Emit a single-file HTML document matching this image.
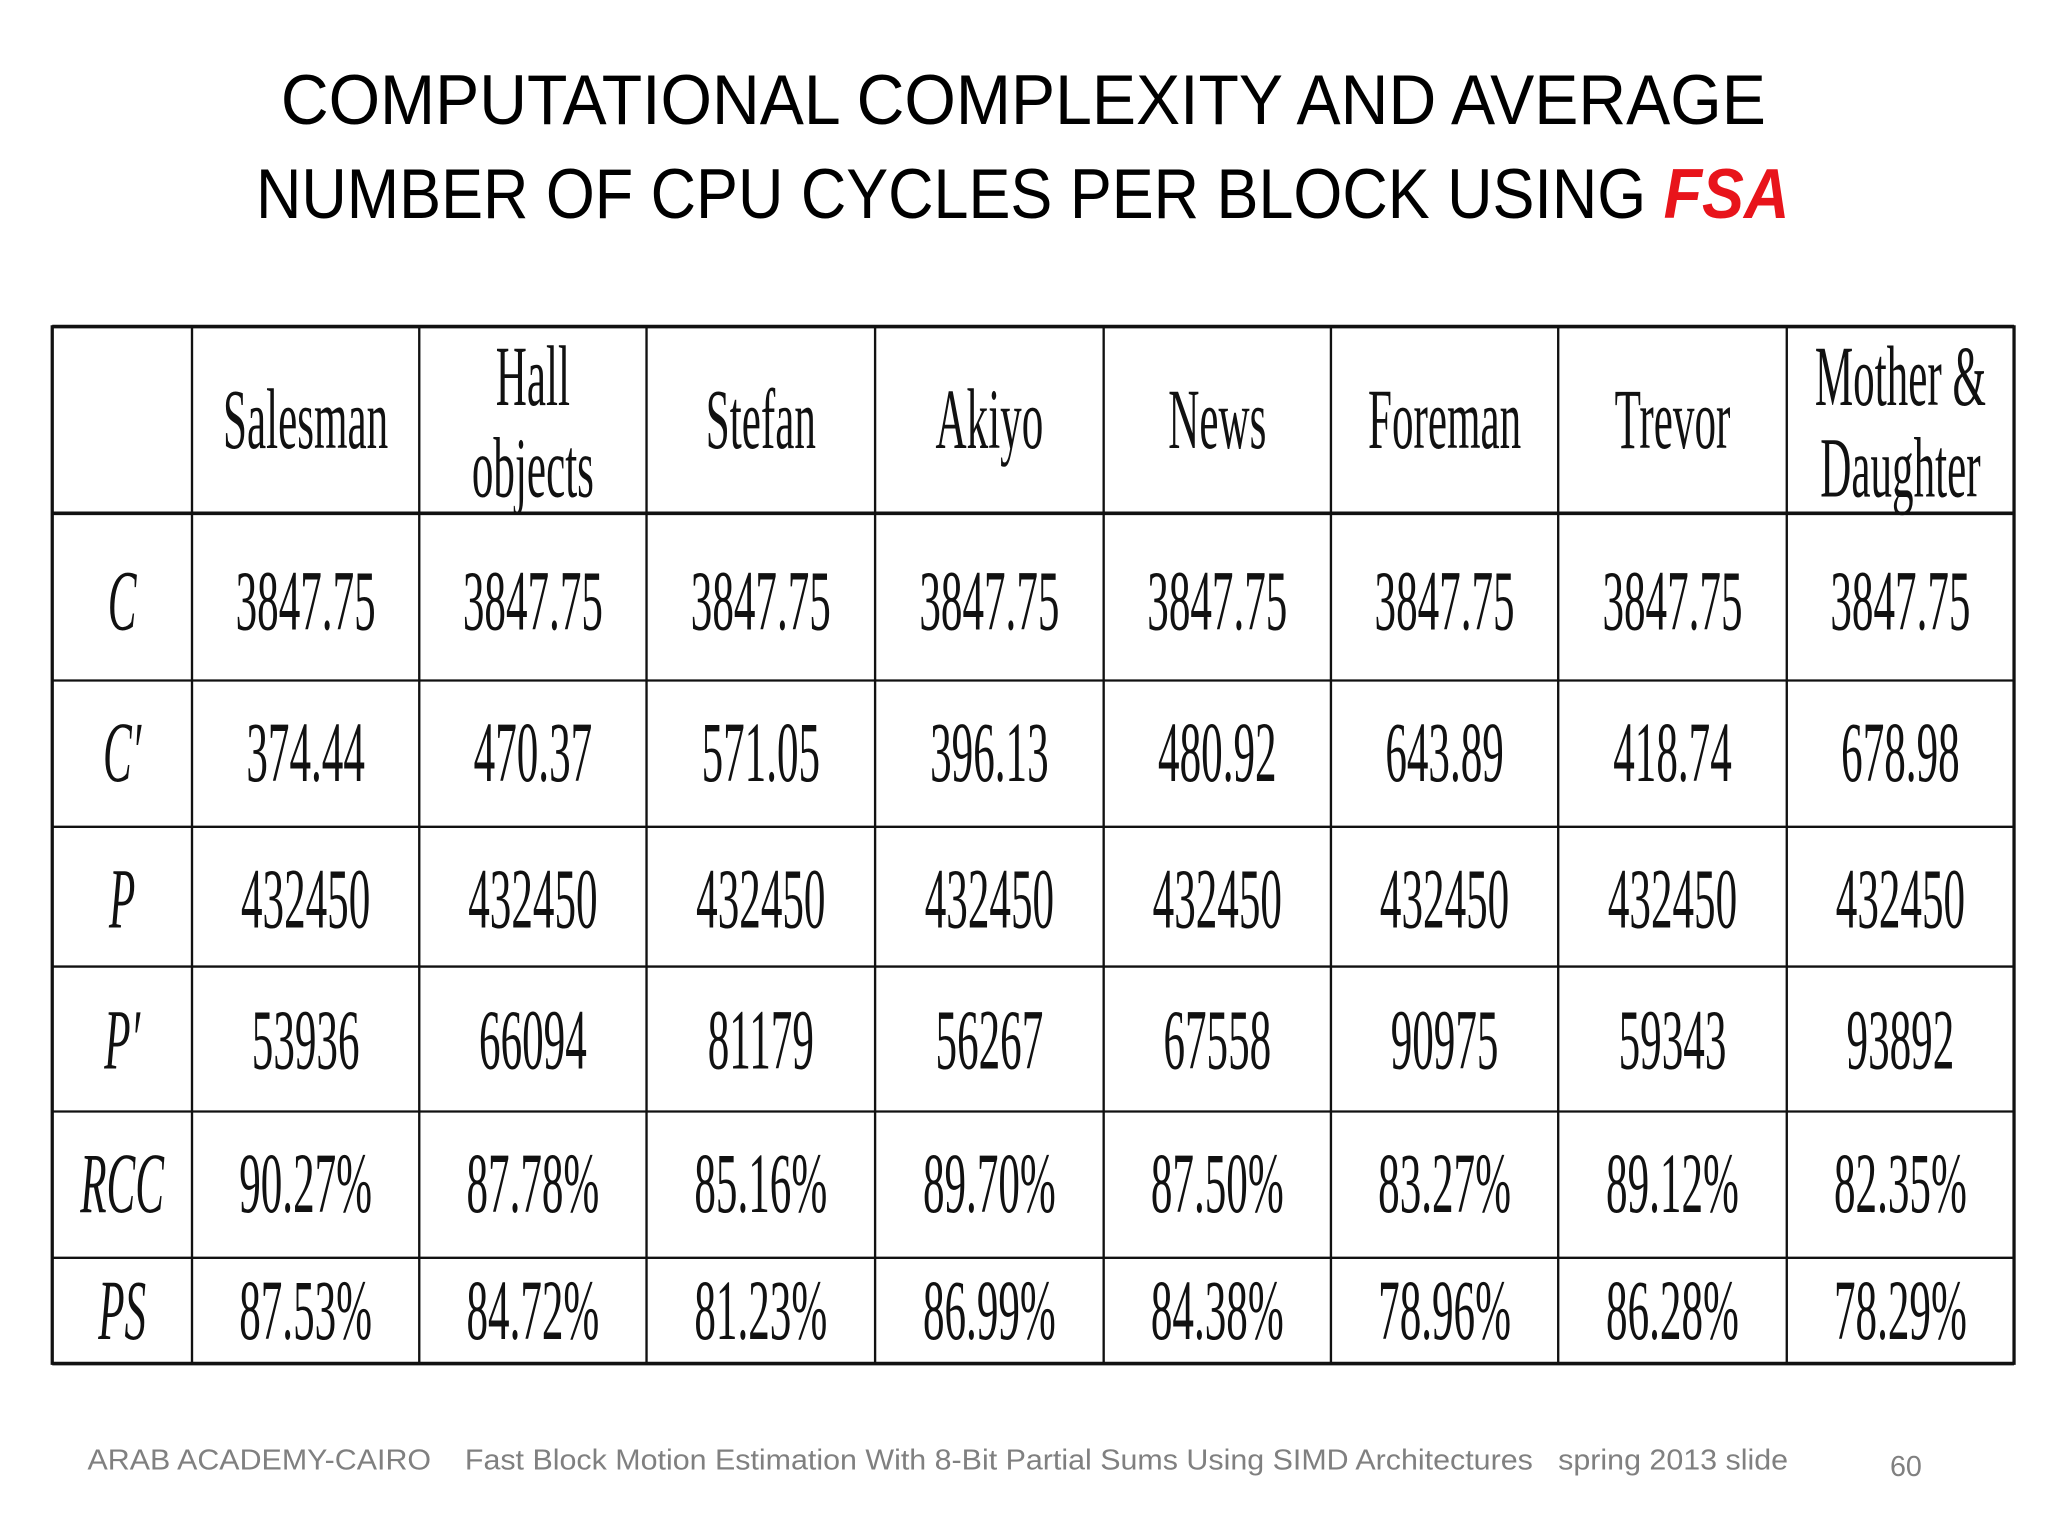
<!DOCTYPE html>
<html><head><meta charset="utf-8"><style>
html,body{margin:0;padding:0;background:#fff;}
svg{display:block;}
.t{font-family:"Liberation Serif",serif;font-size:66px;fill:#111;}
.i{font-style:italic;}
</style></head><body>
<svg width="2048" height="1536" viewBox="0 0 1568 1176" xmlns="http://www.w3.org/2000/svg">
<rect width="1568" height="1176" fill="#fff"/>
<g font-family="Liberation Sans, sans-serif" font-size="54" fill="#000" text-anchor="start">
<text x="215" y="95" textLength="1137" lengthAdjust="spacingAndGlyphs">COMPUTATIONAL COMPLEXITY AND AVERAGE</text>
<text x="196" y="167" textLength="1174" lengthAdjust="spacingAndGlyphs">NUMBER OF CPU CYCLES PER BLOCK USING <tspan fill="#e8141b" font-weight="bold" font-style="italic">FSA</tspan></text>
</g>
<g id="grid" stroke="#111" fill="none"></g>
<g id="cells"></g>
<g font-family="Liberation Sans, sans-serif" fill="#808080">
<text x="67" y="1125" font-size="22" textLength="1302" lengthAdjust="spacingAndGlyphs" xml:space="preserve" style="white-space:pre">ARAB ACADEMY-CAIRO    Fast Block Motion Estimation With 8-Bit Partial Sums Using SIMD Architectures   spring 2013 slide</text>
<text x="1447" y="1130" font-size="22">60</text>
</g>
</svg>
<script>
const cols=[40,147,321,495,670,845,1019,1193,1368,1542];
const rows=[250,393,521,633,740,851,963,1044];
const NS="http://www.w3.org/2000/svg";
const grid=document.getElementById('grid');
function line(x1,y1,x2,y2,w,name){
 const l=document.createElementNS(NS,'line');
 l.setAttribute('x1',x1);l.setAttribute('y1',y1);l.setAttribute('x2',x2);l.setAttribute('y2',y2);
 l.setAttribute('stroke-width',w);
 
 
 grid.appendChild(l);
}
cols.forEach((x,i)=>line(x,rows[0]-1,x,rows[rows.length-1]+1,(i==0||i==cols.length-1)?2.5:1.8,'col-line'));
rows.forEach((y,i)=>line(cols[0],y,cols[cols.length-1],y,(i==0||i==1||i==rows.length-1)?2.8:1.8,'row-line'));
const headers=[["Salesman"],["Hall","objects"],["Stefan"],["Akiyo"],["News"],["Foreman"],["Trevor"],["Mother &","Daughter"]];
const rowLabels=["C","C′","P","P′","RCC","PS"];
const data=[
["3847.75","3847.75","3847.75","3847.75","3847.75","3847.75","3847.75","3847.75"],
["374.44","470.37","571.05","396.13","480.92","643.89","418.74","678.98"],
["432450","432450","432450","432450","432450","432450","432450","432450"],
["53936","66094","81179","56267","67558","90975","59343","93892"],
["90.27%","87.78%","85.16%","89.70%","87.50%","83.27%","89.12%","82.35%"],
["87.53%","84.72%","81.23%","86.99%","84.38%","78.96%","86.28%","78.29%"]];
const baselines=[482,598,710,818,928,1025];
const cells=document.getElementById('cells');
function txt(s,cx,y,name,italic){
 const t=document.createElementNS(NS,'text');
 t.setAttribute('class','t'+(italic?' i':''));
 t.setAttribute('text-anchor','middle');
 t.setAttribute('transform','translate('+cx+','+y+') scale(0.5,1)');
 t.textContent=s;
 
 
 cells.appendChild(t);
}
headers.forEach((h,j)=>{
 const cx=(cols[j+1]+cols[j+2])/2;
 if(h.length==1) txt(h[0],cx,343,'column-header');
 else {txt(h[0],cx,310,'column-header');txt(h[1],cx,380,'column-header');}
});
rowLabels.forEach((r,i)=>{
 txt(r,(cols[0]+cols[1])/2,baselines[i],'row-label',true);
 data[i].forEach((v,j)=>txt(v,(cols[j+1]+cols[j+2])/2,baselines[i],'table-cell',false));
});
</script>
</body></html>
